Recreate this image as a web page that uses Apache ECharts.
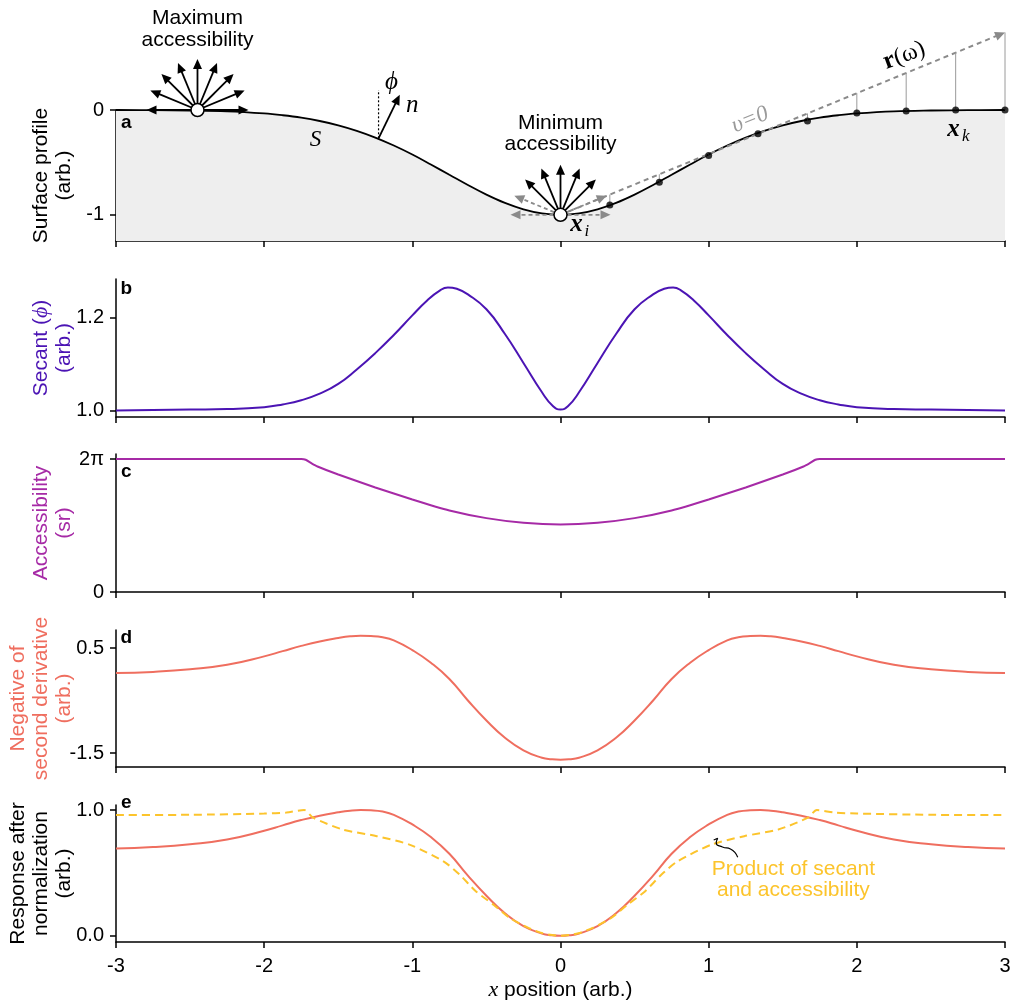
<!DOCTYPE html>
<html><head><meta charset="utf-8">
<script src="https://cdn.jsdelivr.net/npm/echarts@6/dist/echarts.min.js"></script>
<style>html,body{margin:0;padding:0;background:#fff}#c{width:1013px;height:1003px}</style>
</head><body><div id="c"></div>
<script>
// ---------------- DATA ----------------
const xTicks = [-3, -2, -1, 0, 1, 2, 3];
const xSurf = [-3,-2.75,-2.5,-2.25,-2,-1.875,-1.75,-1.625,-1.5,-1.375,-1.25,-1.125,-1,-0.875,-0.75,-0.625,-0.5,-0.375,-0.25,-0.125,0,
  0.125,0.25,0.375,0.5,0.625,0.75,0.875,1,1.125,1.25,1.375,1.5,1.625,1.75,1.875,2,2.25,2.5,2.75,3];
const surfaceY = [0,-0.002,-0.005,-0.013,-0.033,-0.05,-0.073,-0.105,-0.146,-0.199,-0.263,-0.339,-0.425,-0.52,-0.618,-0.716,-0.808,-0.887,-0.948,-0.987,-1,
  -0.987,-0.948,-0.887,-0.808,-0.716,-0.618,-0.52,-0.425,-0.339,-0.263,-0.199,-0.146,-0.105,-0.073,-0.05,-0.033,-0.013,-0.005,-0.002,0];
const dotX = [0.333,0.667,1,1.333,1.667,2,2.333,2.667,3];
const dotY = [-0.906,-0.689,-0.434,-0.226,-0.104,-0.028,-0.01,0,0];
const rayTopY = [-0.807,-0.613,-0.42,-0.227,-0.033,0.16,0.353,0.547,0.74];
const rayStart = [0, -1];
const rayEnd = [3, 0.74];
const xSec = [-3,-2.5,-2.25,-2,-1.875,-1.75,-1.625,-1.5,-1.375,-1.25,-1.125,-1,-0.9,-0.82,-0.76,-0.7,-0.625,-0.5,-0.375,-0.25,-0.125,-0.05,0,
  0.05,0.125,0.25,0.375,0.5,0.625,0.7,0.76,0.82,0.9,1,1.125,1.25,1.375,1.5,1.625,1.75,1.875,2,2.25,2.5,3];
const secantY = [1.001,1.003,1.004,1.008,1.014,1.023,1.037,1.058,1.089,1.124,1.163,1.205,1.237,1.257,1.265,1.262,1.250,1.218,1.165,1.103,1.040,1.010,1.003,
  1.010,1.040,1.103,1.165,1.218,1.250,1.262,1.265,1.257,1.237,1.205,1.163,1.124,1.089,1.058,1.037,1.023,1.014,1.008,1.004,1.003,1.001];
const xAcc = [-3,-1.75,-1.72,-1.68,-1.64,-1.5,-1.25,-1,-0.75,-0.5,-0.25,0,0.25,0.5,0.75,1,1.25,1.5,1.64,1.68,1.72,1.75,3];
const accY = [6.283,6.283,6.25,6.08,5.93,5.55,4.94,4.37,3.85,3.49,3.27,3.19,3.27,3.49,3.85,4.37,4.94,5.55,5.93,6.08,6.25,6.283,6.283];
const xD = [-3,-2.75,-2.5,-2.25,-2,-1.875,-1.75,-1.625,-1.5,-1.42,-1.35,-1.28,-1.2,-1.125,-1,-0.875,-0.75,-0.625,-0.5,-0.375,-0.25,-0.125,-0.06,0,
  0.06,0.125,0.25,0.375,0.5,0.625,0.75,0.875,1,1.125,1.2,1.28,1.35,1.42,1.5,1.625,1.75,1.875,2,2.25,2.5,2.75,3];
const negD2Y = [0.022,0.045,0.095,0.18,0.34,0.44,0.54,0.625,0.69,0.722,0.733,0.728,0.705,0.645,0.46,0.22,-0.09,-0.50,-0.88,-1.21,-1.45,-1.59,-1.62,-1.63,
  -1.62,-1.59,-1.45,-1.21,-0.88,-0.50,-0.09,0.22,0.46,0.645,0.705,0.728,0.733,0.722,0.69,0.625,0.54,0.44,0.34,0.18,0.095,0.045,0.022];
const respY = [0.693,0.705,0.728,0.766,0.835,0.878,0.92,0.955,0.982,0.995,1.0,0.998,0.988,0.962,0.885,0.785,0.652,0.478,0.318,0.178,0.076,0.017,0.004,0,
  0.004,0.017,0.076,0.178,0.318,0.478,0.652,0.785,0.885,0.962,0.988,0.998,1.0,0.995,0.982,0.955,0.92,0.878,0.835,0.766,0.728,0.705,0.693];
const xProd = [-3,-2.5,-2,-1.85,-1.73,-1.67,-1.47,-1.24,-1.02,-0.79,-0.68,-0.57,-0.45,-0.34,-0.22,-0.12,0,
  0.12,0.22,0.34,0.45,0.57,0.68,0.79,1.02,1.24,1.47,1.67,1.73,1.85,2,2.5,3];
const prodY = [0.96,0.962,0.972,0.98,1.0,0.939,0.845,0.792,0.725,0.592,0.485,0.352,0.245,0.139,0.065,0.019,0,
  0.019,0.065,0.139,0.245,0.352,0.485,0.592,0.725,0.792,0.845,0.939,1.0,0.98,0.972,0.962,0.96];
const squiggleX = [1.034,1.061,1.051,1.093,1.147,1.196];
const squiggleY = [0.762,0.776,0.738,0.706,0.690,0.624];
const maxCenter = [-2.45, 0];
const minCenter = [0, -1];

// ---------------- STYLE ----------------
const FONT = '"Liberation Sans", Arial, sans-serif';
const SERIF = '"Liberation Serif", "Times New Roman", serif';
const C_SEC = '#4b14b4', C_ACC = '#a62aa6', C_D2 = '#ef6e5f', C_PROD = '#fcc42c';
const zip = (xs, ys) => xs.map((x, i) => [x, ys[i]]);

const gridPos = [[110,131],[279,138],[454,138],[630,137],[805,137]];
const grid = gridPos.map(g => ({left:116, right:8, top:g[0], height:g[1], containLabel: false, outerBoundsMode: 'none'}));

const xAxis = gridPos.map((g, i) => ({
  gridIndex: i, type: 'value', min: -3, max: 3, interval: 1,
  axisLine: {onZero: false, lineStyle: {color: '#000', width: 1.5}},
  axisTick: {inside: false, length: 6, lineStyle: {color: '#000', width: 1.5}},
  axisLabel: {show: i === 4, margin: 14, fontSize: 20, color: '#000', fontFamily: FONT,
    customValues: xTicks, formatter: v => String(v)},
  splitLine: {show: false},
  name: i === 4 ? '{i|x} position (arb.)' : '',
  nameLocation: 'middle', nameGap: 37, nameMoveOverlap: false,
  nameTextStyle: {fontSize: 21, color: '#000', fontFamily: FONT,
    rich: {i: {fontStyle: 'italic', fontFamily: SERIF, fontSize: 22, color: '#000'}}}
}));

function yAx(i, min, max, ticks, fmt, name, color) {
  return {
    gridIndex: i, type: 'value', min: min, max: max,
    axisLine: {onZero: false, lineStyle: {color: '#000', width: 1.5}},
    axisTick: {inside: false, length: 6, customValues: ticks, lineStyle: {color: '#000', width: 1.5}},
    axisLabel: {margin: 12, fontSize: 20, color: '#000', fontFamily: FONT, customValues: ticks, formatter: fmt},
    splitLine: {show: false},
    name: name, nameLocation: 'middle', nameRotate: 90, nameGap: 40, nameMoveOverlap: false,
    nameTextStyle: {fontSize: 21, lineHeight: 23, color: color, fontFamily: FONT, align: 'center',
      rich: {i: {fontStyle: 'italic', fontFamily: SERIF, fontSize: 22, color: color}}}
  };
}
const yAxis = [
  yAx(0, -1.25, 0, [-1, 0], v => String(Math.round(v)), 'Surface profile\n(arb.)', '#000'),
  yAx(1, 0.987, 1.283, [1.0, 1.2], v => v.toFixed(1), 'Secant ({i|ϕ})\n(arb.)', C_SEC),
  yAx(2, 0, 6.52, [0, 2 * Math.PI], v => v === 0 ? '0' : '2π', 'Accessibility\n(sr)', C_ACC),
  yAx(3, -1.767, 0.843, [-1.5, 0.5], v => v.toFixed(1), 'Negative of\nsecond derivative\n(arb.)', C_D2),
  yAx(4, -0.05, 1.04, [0, 1], v => v.toFixed(1), 'Response after\nnormalization\n(arb.)', '#000')
];

const series = [
  {type: 'line', xAxisIndex: 0, yAxisIndex: 0, data: zip(xSurf, surfaceY), smooth: 0.4, showSymbol: false, clip: false,
    lineStyle: {color: '#000', width: 1.8}, areaStyle: {color: '#eeeeee', origin: 'start', opacity: 1}, z: 2},
  {type: 'scatter', xAxisIndex: 0, yAxisIndex: 0, data: zip(dotX, dotY), symbolSize: 7, clip: false,
    itemStyle: {color: '#000'}, z: 60},
  {type: 'scatter', xAxisIndex: 0, yAxisIndex: 0, data: [maxCenter, minCenter], symbolSize: 13, clip: false,
    itemStyle: {color: '#fff', borderColor: '#000', borderWidth: 1.5, opacity: 1}, z: 100},
  {type: 'line', xAxisIndex: 1, yAxisIndex: 1, data: zip(xSec, secantY), smooth: 0.5, showSymbol: false,
    lineStyle: {color: C_SEC, width: 2}},
  {type: 'line', xAxisIndex: 2, yAxisIndex: 2, data: zip(xAcc, accY), smooth: 0.2, showSymbol: false, clip: false,
    lineStyle: {color: C_ACC, width: 2}},
  {type: 'line', xAxisIndex: 3, yAxisIndex: 3, data: zip(xD, negD2Y), smooth: 0.5, showSymbol: false,
    lineStyle: {color: C_D2, width: 2}},
  {type: 'line', xAxisIndex: 4, yAxisIndex: 4, data: zip(xD, respY), smooth: 0.5, showSymbol: false,
    lineStyle: {color: C_D2, width: 2}},
  {type: 'line', xAxisIndex: 4, yAxisIndex: 4, data: zip(xProd, prodY), smooth: 0.25, showSymbol: false,
    lineStyle: {color: C_PROD, width: 2, type: [8, 5]}},
  {type: 'line', xAxisIndex: 4, yAxisIndex: 4, data: zip(squiggleX, squiggleY), smooth: 0.6, showSymbol: false,
    lineStyle: {color: '#000', width: 1.2}}
];

const chart = echarts.init(document.getElementById('c'), null, {renderer: 'canvas'});
chart.setOption({animation: false, backgroundColor: '#fff', grid, xAxis, yAxis, series});

// ---------------- ANNOTATIONS ----------------
const P = (g, x, y) => chart.convertToPixel({gridIndex: g}, [x, y]);
const els = [];
function line(p0, p1, color, w, dash, z) {
  els.push({type: 'line', shape: {x1: p0[0], y1: p0[1], x2: p1[0], y2: p1[1]},
    style: {stroke: color, lineWidth: w, lineDash: dash || null}, z: z || 50, silent: true});
}
function arrow(p0, p1, color, w, dash, hl, hw) {
  hl = hl || 10; hw = hw || 4.5;
  const dx = p1[0] - p0[0], dy = p1[1] - p0[1], L = Math.hypot(dx, dy), ux = dx / L, uy = dy / L;
  const bx = p1[0] - ux * hl, by = p1[1] - uy * hl;
  line(p0, [bx + ux, by + uy], color, w, dash);
  els.push({type: 'polygon', shape: {points: [[p1[0], p1[1]], [bx - uy * hw, by + ux * hw], [bx + uy * hw, by - ux * hw]]},
    style: {fill: color}, z: 50, silent: true});
}
function text(p, str, font, color, opts) {
  opts = opts || {};
  els.push({type: 'text', x: p[0], y: p[1], rotation: opts.rot || 0, z: 55, silent: true,
    style: {text: str, font: font, fill: color, align: opts.align || 'center', textAlign: opts.align || 'center',
      verticalAlign: 'middle', textVerticalAlign: 'middle', lineHeight: opts.lh || 23, rich: opts.rich}});
}
function fan(center, angles, len, color, dash) {
  const c = P(0, center[0], center[1]);
  angles.forEach(a => {
    const r = a * Math.PI / 180;
    arrow(c, [c[0] + len * Math.cos(r), c[1] - len * Math.sin(r)], color, 1.8, dash);
  });
}
// r(omega) ray and connectors
arrow(P(0, rayStart[0], rayStart[1]), P(0, rayEnd[0], rayEnd[1]), '#8a8a8a', 2, [5, 4], 10, 4.5);
dotX.forEach((x, i) => { if (rayTopY[i] > dotY[i] + 0.01) line(P(0, x, dotY[i]), P(0, x, rayTopY[i]), '#9a9a9a', 1); });
// fans
fan(maxCenter, [0, 22.5, 45, 67.5, 90, 112.5, 135, 157.5, 180], 51, '#000');
fan(minCenter, [0, 22.5, 157.5, 180], 50, '#8a8a8a', [4, 3]);
fan(minCenter, [45, 67.5, 90, 112.5, 135], 50, '#000');
// normal & phi
line(P(0, -1.228, -0.27), P(0, -1.228, 0.19), '#000', 1.2, [2, 2]);
arrow(P(0, -1.228, -0.27), P(0, -1.085, 0.145), '#000', 1.8);
// texts panel a
text(P(0, -2.45, 0.77), 'Maximum\naccessibility', '21px ' + FONT, '#000', {lh: 22});
text(P(0, 0, -0.23), 'Minimum\naccessibility', '21px ' + FONT, '#000', {lh: 21});
text(P(0, -1.653, -0.283), 'S', 'italic 23px ' + SERIF, '#000');
text(P(0, -1.14, 0.264), 'ϕ', 'italic 25px ' + SERIF, '#000');
text(P(0, -1.0, 0.047), 'n', 'italic 25px ' + SERIF, '#000');
text(P(0, 2.32, 0.52), '{b|r}{n|(ω)}', '24px ' + SERIF, '#000', {rot: 20 * Math.PI / 180,
  rich: {b: {font: 'bold 25px ' + SERIF, fill: '#000'}, n: {font: '24px ' + SERIF, fill: '#000'}}});
text(P(0, 1.28, -0.094), 'υ=0', 'italic 23px ' + SERIF, '#9a9a9a', {rot: 22 * Math.PI / 180});
text(P(0, 2.652, -0.189), 'x', 'bold italic 25px ' + SERIF, '#000');
text(P(0, 2.735, -0.25), 'k', 'italic 17px ' + SERIF, '#000');
text(P(0, 0.108, -1.094), 'x', 'bold italic 25px ' + SERIF, '#000');
text(P(0, 0.178, -1.16), 'i', 'italic 17px ' + SERIF, '#000');
// panel letters
const letters = [['a', -0.12], ['b', 1.2625], ['c', 5.68], ['d', 0.70], ['e', 1.058]];
letters.forEach((l, g) => text(P(g, -2.93, l[1]), l[0], 'bold 19px ' + FONT, '#000'));
// panel e note
text(P(4, 1.572, 0.442), 'Product of secant\nand accessibility', '21px ' + FONT, C_PROD, {lh: 21});

chart.setOption({graphic: {elements: els}});
</script></body></html>
